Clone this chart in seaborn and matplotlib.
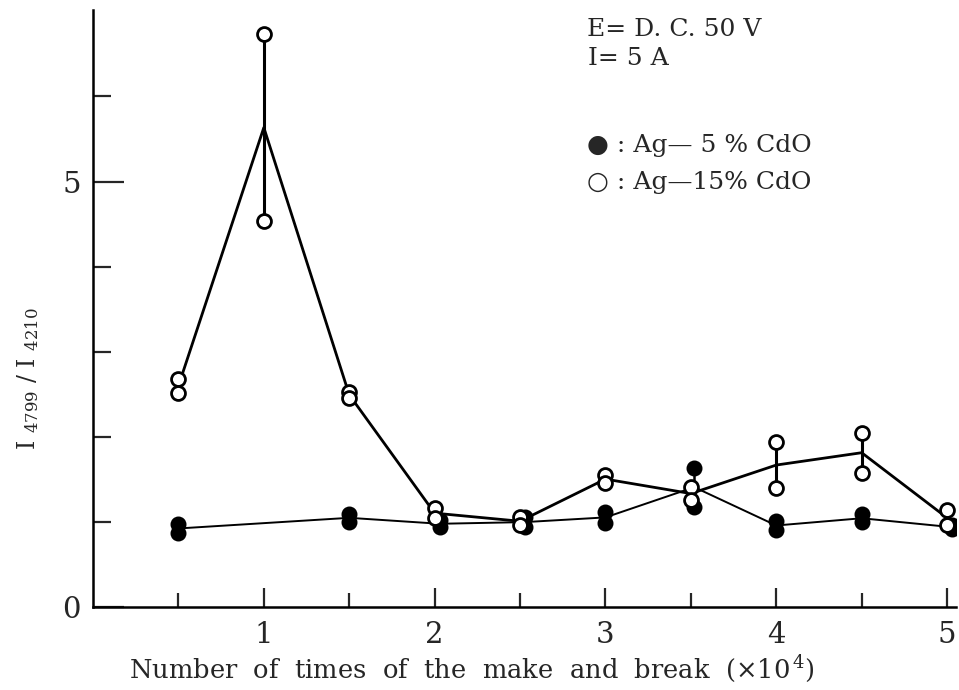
import numpy as np
import pandas as pd
import matplotlib
matplotlib.use('Agg')
import matplotlib.pyplot as plt
from matplotlib.ticker import FixedLocator
import seaborn as sns

# make-and-break count (x10^4) and the two readings at each step
steps_open = [0.5, 1.0, 1.5, 2.0, 2.5, 3.0, 3.5, 4.0, 4.5, 5.0]
open_hi = [2.68, 6.73, 2.53, 1.16, 1.06, 1.55, 1.41, 1.94, 2.05, 1.14]
open_lo = [2.52, 4.54, 2.46, 1.05, 0.96, 1.46, 1.26, 1.40, 1.58, 0.96]

steps_filled = [0.5, 1.5, 2.03, 2.53, 3.0, 3.52, 4.0, 4.5, 5.03]
filled_hi = [0.98, 1.10, 1.02, 1.06, 1.12, 1.64, 1.01, 1.09, 0.96]
filled_lo = [0.87, 1.00, 0.94, 0.94, 0.99, 1.18, 0.91, 1.00, 0.92]

open_df = pd.DataFrame({'x': steps_open * 2, 'ratio': open_hi + open_lo})
filled_df = pd.DataFrame({'x': steps_filled * 2, 'ratio': filled_hi + filled_lo})

sns.set_style('ticks')
plt.rcParams['font.family'] = ['DejaVu Serif', 'DejaVu Sans']
plt.rcParams['mathtext.fontset'] = 'dejavuserif'

fig = plt.figure(figsize=(9.59, 6.9), dpi=100)
ax = fig.add_axes([0.097, 0.12, 0.90, 0.866])

# mean line with min-max bars
sns.lineplot(data=filled_df, x='x', y='ratio', estimator='mean', errorbar=('pi', 100),
             err_style='bars', color='black', linewidth=1.4,
             err_kws={'linewidth': 1.8, 'capsize': 0}, ax=ax)
sns.lineplot(data=open_df, x='x', y='ratio', estimator='mean', errorbar=('pi', 100),
             err_style='bars', color='black', linewidth=2.0,
             err_kws={'linewidth': 2.2, 'capsize': 0}, ax=ax)

# raw readings
ax.scatter(filled_df['x'], filled_df['ratio'], s=100, facecolor='black',
           edgecolor='black', linewidth=1.5, zorder=4)
ax.scatter(open_df['x'], open_df['ratio'], s=100, facecolor='white',
           edgecolor='black', linewidth=2.0, zorder=5)

ax.set_xlim(0, 5.053)
ax.set_ylim(0, 7.02)
sns.despine(ax=ax)
for sp in ['left', 'bottom']:
    ax.spines[sp].set_linewidth(1.8)
    ax.spines[sp].set_color('black')

ax.xaxis.set_major_locator(FixedLocator([1, 2, 3, 4, 5]))
ax.xaxis.set_minor_locator(FixedLocator([0.5, 1.5, 2.5, 3.5, 4.5]))
ax.yaxis.set_major_locator(FixedLocator([0, 5]))
ax.yaxis.set_minor_locator(FixedLocator([1, 2, 3, 4, 6]))
ax.tick_params(axis='x', which='major', direction='in', length=14, width=1.6,
               labelsize=21, pad=10)
ax.tick_params(axis='x', which='minor', direction='in', length=10, width=1.6)
ax.tick_params(axis='y', which='major', direction='in', length=22, width=1.6,
               labelsize=21, pad=9)
ax.tick_params(axis='y', which='minor', direction='in', length=13, width=1.6)

ax.set_xlabel('Number  of  times  of  the  make  and  break  ($\\times$10$^{\\,4}$)',
              fontsize=18.5)
ax.xaxis.set_label_coords(0.439, -0.077)
ax.set_ylabel('I $_{4799}$ / I $_{4210}$', fontsize=17)
ax.yaxis.set_label_coords(-0.06, 0.383)

txt = dict(transform=ax.transAxes, fontsize=18, va='center', ha='left')
ax.text(0.572, 0.966, 'E= D. C. 50 V', **txt)
ax.text(0.574, 0.919, 'I= 5 A', **txt)
ax.text(0.572, 0.773, '● : Ag— 5 % CdO', **txt)
ax.text(0.572, 0.710, '○ : Ag—15% CdO', **txt)

fig.savefig('out.png', dpi=100)
